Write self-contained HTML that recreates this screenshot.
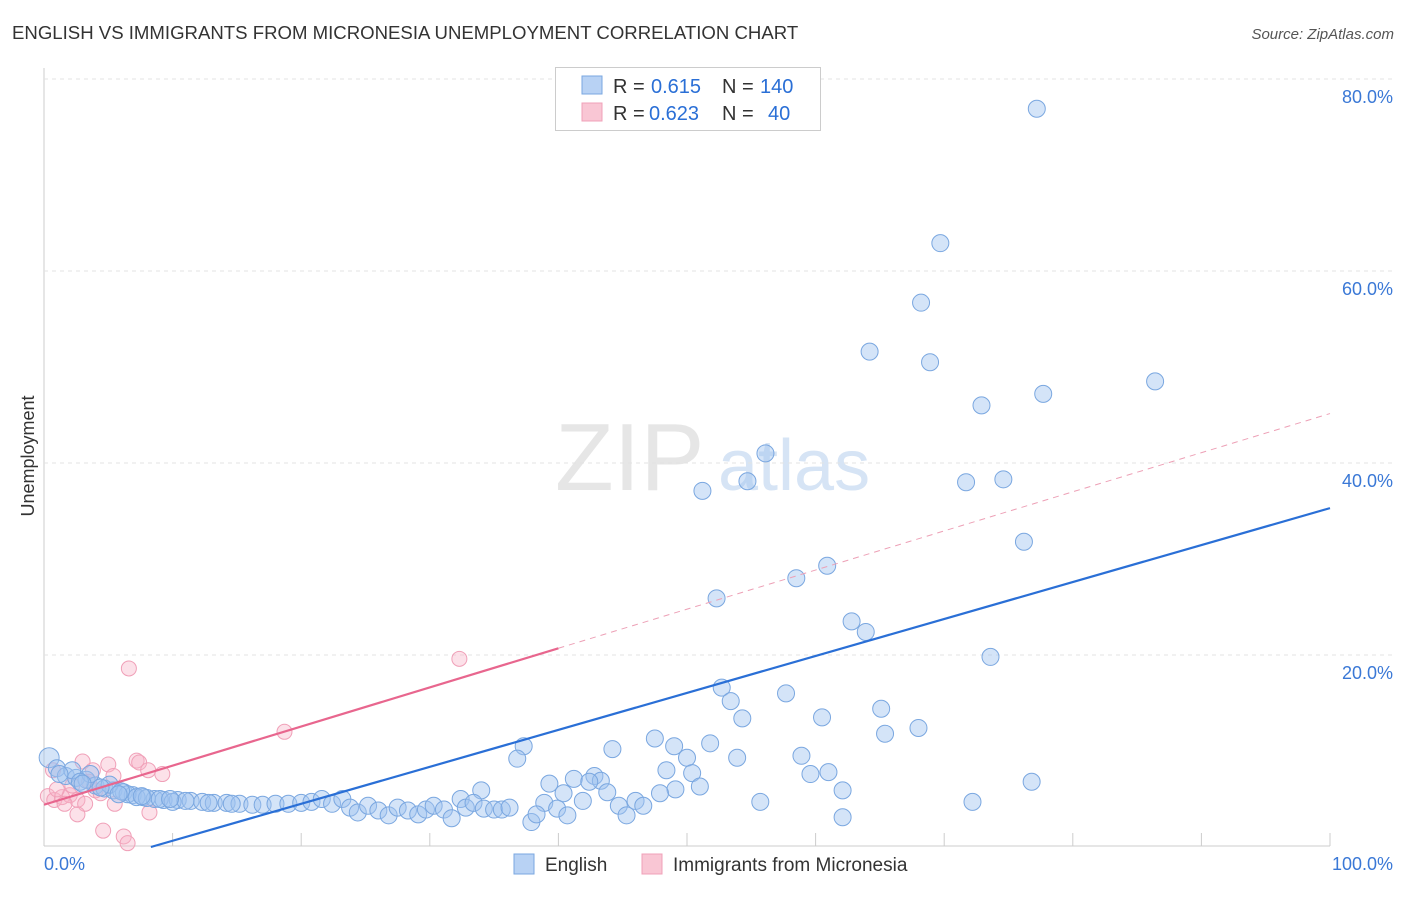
<!DOCTYPE html>
<html><head><meta charset="utf-8"><style>
body{margin:0;background:#fff;font-family:"Liberation Sans",sans-serif;}
svg text{font-family:"Liberation Sans",sans-serif;}
</style></head><body>
<svg id="c" width="1406" height="892">
<text x="12" y="39" font-size="18.6" fill="#333">ENGLISH VS IMMIGRANTS FROM MICRONESIA UNEMPLOYMENT CORRELATION CHART</text>
<text x="1394" y="39" font-size="15" fill="#555" font-style="italic" text-anchor="end">Source: ZipAtlas.com</text>
<text x="34" y="456" font-size="18" fill="#333" text-anchor="middle" transform="rotate(-90 34 456)">Unemployment</text>
<g><text x="555" y="490" font-size="96" fill="#e6e6e6" font-family="Liberation Serif, serif">ZIP</text><text x="718" y="490" font-size="72" fill="#d6e4f5">atlas</text></g>
<g id="grid"></g><g id="marks"></g>
<g>
<rect x="555.5" y="67.5" width="265" height="63" fill="#fff" stroke="#ccc"/>
<rect x="582" y="76" width="20" height="18" fill="#b8d2f4" stroke="#7aa7e0"/>
<rect x="582" y="103" width="20" height="18" fill="#f9c6d4" stroke="#f0a0b8"/>
<text x="613" y="93" font-size="20" fill="#333">R =</text>
<text x="651" y="93" font-size="20" fill="#2a6fd6">0.615</text>
<text x="722" y="93" font-size="20" fill="#333">N =</text>
<text x="760" y="93" font-size="20" fill="#2a6fd6">140</text>
<text x="613" y="120" font-size="20" fill="#333">R =</text>
<text x="649" y="120" font-size="20" fill="#2a6fd6">0.623</text>
<text x="722" y="120" font-size="20" fill="#333">N =</text>
<text x="768" y="120" font-size="20" fill="#2a6fd6">40</text>
</g>
<g>
<rect x="514" y="854" width="20" height="20" fill="#b8d2f4" stroke="#7aa7e0"/>
<text x="545" y="871" font-size="19" fill="#333">English</text>
<rect x="642" y="854" width="20" height="20" fill="#f9c6d4" stroke="#f0a0b8"/>
<text x="673" y="871" font-size="19" fill="#333">Immigrants from Micronesia</text>
</g>
</svg>
<script>
const xTicks=[0,10,20,30,40,50,60,70,80,90,100];
const yTicks=[20,40,60,80];
const blueX=[77.2,69.7,68.2,64.2,68.9,86.4,77.7,72.9,56.1,54.7,51.2,71.7,74.6,76.2,60.9,58.5,52.3,62.8,63.9,73.6,52.7,57.7,53.4,65.1,54.3,60.5,68.0,65.4,47.5,37.3,44.2,49,51.8,36.8,50,53.9,58.9,48.4,50.4,59.6,61,76.8,39.3,41.2,42.8,43.3,42.4,51,49.1,43.8,40.4,34,47.9,62.1,41.9,44.7,46,46.6,55.7,72.2,38.9,39.9,45.3,40.7,37.9,38.3,62.1,0.4,1,1.7,2.5,3.3,4.0,4.7,5.4,6.2,6.9,7.7,8.6,9.3,10.4,11.4,12.3,13.2,14.2,15.2,16.2,17,18,19,20,20.8,21.6,22.4,23.2,23.8,24.4,25.2,26,26.8,27.5,28.3,29.1,29.7,30.3,31.1,31.7,32.4,32.8,33.4,34.2,35,35.6,36.2,2.2,3.6,5.1,6.5,1.2,2.8,4.4,6,7.2,8,9,10,11,12.8,14.6,3,5.8,7.6,9.8];
const blueY=[76.9,62.9,56.7,51.6,50.5,48.5,47.2,46.0,41.0,38.1,37.1,38.0,38.3,31.8,29.3,28.0,25.9,23.5,22.4,19.8,16.6,16.0,15.2,14.4,13.4,13.5,12.4,11.8,11.3,10.5,10.2,10.5,10.8,9.2,9.3,9.3,9.5,8.0,7.7,7.6,7.8,6.8,6.6,7.1,7.4,6.9,6.8,6.3,6.0,5.7,5.6,5.9,5.6,5.9,4.8,4.3,4.8,4.3,4.7,4.7,4.6,4.0,3.3,3.3,2.6,3.4,3.1,9.3,8.2,7.4,7.2,7.0,6.4,6.1,5.9,5.7,5.4,5.2,5.0,4.9,4.9,4.8,4.7,4.6,4.6,4.5,4.4,4.4,4.5,4.5,4.6,4.7,5.0,4.5,5.0,4.1,3.6,4.3,3.8,3.3,4.1,3.8,3.4,3.9,4.3,3.9,3,5.0,4.1,4.6,4.0,3.9,3.9,4.1,8.0,7.6,6.5,5.5,7.6,6.8,6.2,5.8,5.2,5.1,5.0,4.7,4.8,4.6,4.5,6.6,5.5,5.3,5.0];
const pinkX=[6.6,32.3,18.7,0.7,3,5,7.2,7.4,8.1,9.2,3.8,5.4,0.3,0.8,1.4,2,2.6,3.2,1.6,2.6,5.5,8.2,4.6,6.2,6.5,4,2.2,4.4,1.0,3.5];
const pinkY=[18.6,19.6,12.0,8.0,8.9,8.6,9.0,8.8,8.0,7.6,8.0,7.4,5.3,4.9,5.2,5.4,4.9,4.5,4.5,3.4,4.5,3.6,1.7,1.1,0.4,5.9,6.4,5.6,6.0,6.8];
const blueLine=[-3.2,0.385];
const pinkLine=[4.4,0.4075];
const X=v=>44+v*12.86, Y=v=>847-v*9.6;
const NS="http://www.w3.org/2000/svg";
function mk(t,a,p){const e=document.createElementNS(NS,t);for(const k in a)e.setAttribute(k,a[k]);p.appendChild(e);return e;}
const g=document.getElementById('grid'),m=document.getElementById('marks');
mk('line',{x1:44,y1:68,x2:44,y2:846,stroke:'#ccc'},g);
mk('line',{x1:44,y1:846,x2:1330,y2:846,stroke:'#ccc'},g);
yTicks.forEach(v=>{
 const l=mk('line',{x1:44,y1:Y(v),x2:1394,y2:Y(v),stroke:'#e3e3e3','stroke-dasharray':'4 4'},g);
 
 
 const t=mk('text',{x:1393,y:Y(v)+24,'font-size':18,fill:'#3a78d6','text-anchor':'end'},g);t.textContent=v.toFixed(1)+'%';
 
 
});
xTicks.forEach(v=>{
 const l=mk('line',{x1:X(v),y1:833,x2:X(v),y2:846,stroke:'#ccc'},g);
 
 
});
[[0,'0.0%','start',44],[100,'100.0%','end',1393]].forEach(a=>{
 const t=mk('text',{x:a[3],y:870,'font-size':18,fill:'#3a78d6','text-anchor':a[2]},g);t.textContent=a[1];
 
 
});
pinkX.forEach((x,i)=>{
 const c=mk('circle',{cx:X(x),cy:Y(pinkY[i]),r:7.5,fill:'rgba(248,180,200,0.4)',stroke:'#f0a0b8','stroke-width':1},m);
 
 
});
blueX.forEach((x,i)=>{
 const c=mk('circle',{cx:X(x),cy:Y(blueY[i]),r:x<1?10:8.5,fill:'rgba(160,196,240,0.45)',stroke:'#7aa7e0','stroke-width':1},m);
 
 
});
const x0=-blueLine[0]/blueLine[1];
const bl=mk('line',{x1:X(x0),y1:Y(0),x2:X(100),y2:Y(blueLine[0]+blueLine[1]*100),stroke:'#2a6fd6','stroke-width':2.2},m);


const pl=mk('line',{x1:X(0),y1:Y(pinkLine[0]),x2:X(40),y2:Y(pinkLine[0]+pinkLine[1]*40),stroke:'#e8668e','stroke-width':2.2},m);


const pd=mk('line',{x1:X(40),y1:Y(pinkLine[0]+pinkLine[1]*40),x2:X(100),y2:Y(pinkLine[0]+pinkLine[1]*100),stroke:'#eda0b6','stroke-width':1,'stroke-dasharray':'6 5'},m);


</script>
</body></html>
